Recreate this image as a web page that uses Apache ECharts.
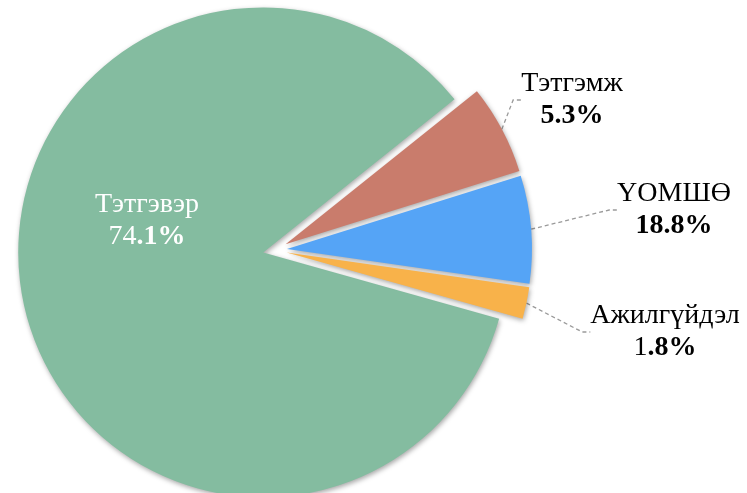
<!DOCTYPE html>
<html>
<head>
<meta charset="utf-8">
<script src="https://cdn.jsdelivr.net/npm/echarts@6/dist/echarts.min.js"></script>
<style>
  html, body { margin: 0; padding: 0; background: #fff; }
  #chart { width: 747px; height: 493px; }
</style>
</head>
<body>
<div id="chart"></div>
<script>
// categories and printed labels
const names = ['Тэтгэвэр', 'Тэтгэмж', 'ҮОМШӨ', 'Ажилгүйдэл']
const pctLabels = ['74.1%', '5.3%', '18.8%', '1.8%']
// slice shares as drawn in the picture (angles)
const shares = [84.9, 5.9, 7.1, 2.1]
const colors = ['#84BCA0', '#C97C6C', '#55A4F6', '#F8B24A']

// label styling: how many leading characters of the percent are not bold
const plainChars = [2, 0, 0, 1]
const labelPos = [
  { x: 147, y: 221 },
  { x: 572, y: 100 },
  { x: 674, y: 210 },
  { x: 665, y: 332 }
]

const cx = 275, cy = 250, radius = 245
const startAngle = 344.3
const explode = 12

const chart = echarts.init(document.getElementById('chart'))

const baseFont = {
  fontFamily: '"Liberation Serif", "Times New Roman", serif',
  fontSize: 28,
  lineHeight: 32
}

const total = shares.reduce((a, b) => a + b, 0)
let acc = 0

// one series per exploded slice, pushed out along its own mid-angle
const series = names.map((name, i) => {
  const a0 = startAngle - acc / total * 360
  acc += shares[i]
  const a1 = startAngle - acc / total * 360
  const mid = (a0 + a1) / 2 * Math.PI / 180
  return {
    type: 'pie',
    center: [cx + explode * Math.cos(mid), cy - explode * Math.sin(mid)],
    radius: radius,
    startAngle: startAngle,
    silent: true,
    z: i === 0 ? 1 : 2,
    data: shares.map((v, j) => ({
      name: names[j],
      value: v,
      itemStyle: j === i
        ? {
            color: colors[j],
            shadowBlur: 5,
            shadowOffsetX: 1,
            shadowOffsetY: 2,
            shadowColor: 'rgba(0,0,0,0.35)'
          }
        : { color: 'rgba(0,0,0,0)' },
      label: { show: j === i, color: j === 0 ? '#fff' : '#000', position: j === 0 ? 'inside' : 'outside' },
      labelLine: { show: j === i && j !== 0 }
    })),
    label: {
      ...baseFont,
      align: 'center',
      formatter: p => {
        const t = pctLabels[p.dataIndex]
        const k = plainChars[p.dataIndex]
        let s = '{n|' + p.name + '}\n'
        if (k > 0) s += '{n|' + t.slice(0, k) + '}'
        s += '{b|' + t.slice(k) + '}'
        return s
      },
      rich: {
        n: { ...baseFont },
        b: { ...baseFont, fontWeight: 'bold' }
      }
    },
    labelLine: {
      length: 10,
      length2: 8,
      lineStyle: { color: '#9a9a9a', type: [4, 3], width: 1.3 }
    },
    labelLayout: p => ({
      x: labelPos[p.dataIndex].x,
      y: labelPos[p.dataIndex].y,
      align: 'center',
      verticalAlign: 'middle'
    })
  }
})

chart.setOption({ animation: false, series: series })
</script>
</body>
</html>
